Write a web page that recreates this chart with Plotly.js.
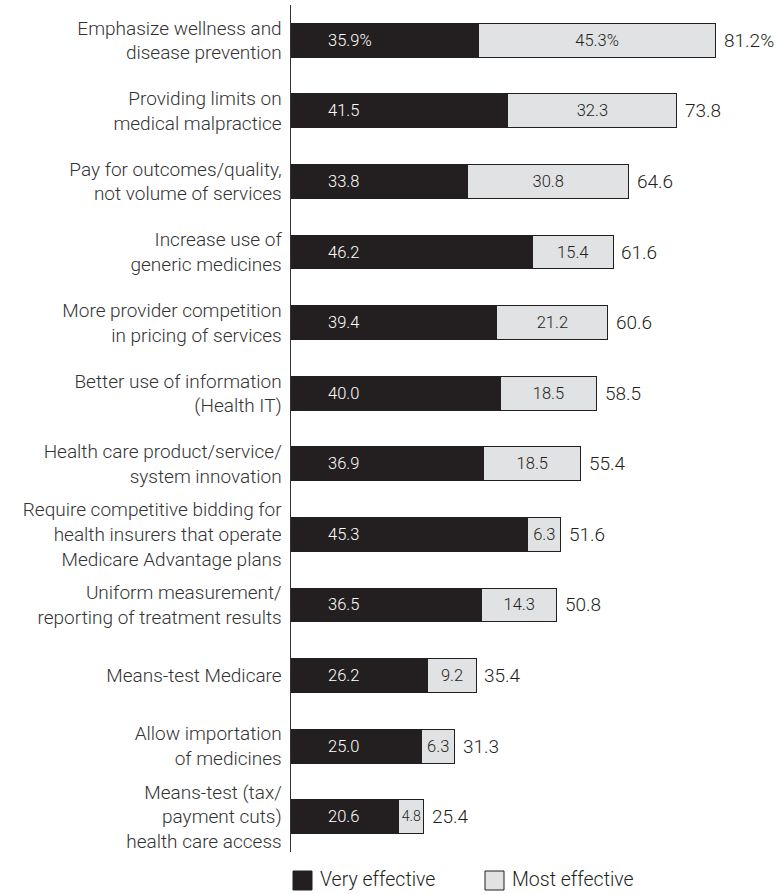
<!DOCTYPE html>
<html>
<head>
<meta charset="utf-8">
<script src="https://cdn.plot.ly/plotly-3.0.1.min.js"></script>
<style>html,body{margin:0;padding:0;background:#fff;}#chart{width:778px;height:894px;}</style>
</head>
<body>
<div id="chart"></div>
<script>
const categories = [
  "Emphasize wellness and<br>disease prevention",
  "Providing limits on<br>medical malpractice",
  "Pay for outcomes/quality,<br>not volume of services",
  "Increase use of<br>generic medicines",
  "More provider competition<br>in pricing of services",
  "Better use of information<br>(Health IT)",
  "Health care product/service/<br>system innovation",
  "Require competitive bidding for<br>health insurers that operate<br>Medicare Advantage plans",
  "Uniform measurement/<br>reporting of treatment results",
  "Means-test Medicare",
  "Allow importation<br>of medicines",
  "Means-test (tax/<br>payment cuts)<br>health care access"
];
const veryEffective = [35.9, 41.5, 33.8, 46.2, 39.4, 40.0, 36.9, 45.3, 36.5, 26.2, 25.0, 20.6];
const mostEffective = [45.3, 32.3, 30.8, 15.4, 21.2, 18.5, 18.5, 6.3, 14.3, 9.2, 6.3, 4.8];
const totals = [81.2, 73.8, 64.6, 61.6, 60.6, 58.5, 55.4, 51.6, 50.8, 35.4, 31.3, 25.4];
const seriesNames = ["Very effective", "Most effective"];

const DARK = "#231f20";
const GREY = "#e1e2e3";
const FONT = "Roboto, 'Liberation Sans', sans-serif";

function fmt(v, i) { return v.toFixed(1) + (i === 0 ? "%" : ""); }

const traces = [
  {
    type: "bar", orientation: "h", name: seriesNames[0],
    y: categories, x: veryEffective,
    marker: {color: DARK, line: {color: DARK, width: 1}},
    width: 0.48, hoverinfo: "skip", showlegend: false
  },
  {
    type: "bar", orientation: "h", name: seriesNames[1],
    y: categories, x: mostEffective,
    marker: {color: GREY, line: {color: DARK, width: 1}},
    width: 0.48,
    text: mostEffective.map(fmt), textposition: "inside", insidetextanchor: "middle",
    textangle: 0, textfont: {family: FONT, size: 16.5, color: DARK, weight: 300},
    hoverinfo: "skip", showlegend: false
  }
];

const annotations = [];
categories.forEach((c, i) => {
  annotations.push({
    x: 0, y: c, xref: "x", yref: "y", xanchor: "left", yanchor: "middle",
    xshift: 35, text: fmt(veryEffective[i], i), showarrow: false,
    font: {family: FONT, size: 16.5, color: "#ffffff", weight: 300}
  });
  annotations.push({
    x: totals[i], y: c, xref: "x", yref: "y", xanchor: "left", yanchor: "middle",
    xshift: 6, text: fmt(totals[i], i), showarrow: false,
    font: {family: FONT, size: 19, color: DARK, weight: 300}
  });
});

// legend (built from series names and colours)
const plotW = 778 - 291 - 6, plotH = 894 - 5 - 42;
const px = p => (p - 291) / plotW;
const py = p => (852 - p) / plotH;
const legendX = [293, 485];
const legendColors = [DARK, GREY];
const shapes = [];
seriesNames.forEach((n, k) => {
  shapes.push({
    type: "rect", xref: "paper", yref: "paper",
    x0: px(legendX[k]), x1: px(legendX[k] + 19), y0: py(871), y1: py(890),
    fillcolor: legendColors[k], line: {color: DARK, width: 1}
  });
  annotations.push({
    x: px(legendX[k] + 25), y: py(880), xref: "paper", yref: "paper",
    xanchor: "left", yanchor: "middle", text: n, showarrow: false,
    font: {family: FONT, size: 19.5, color: DARK, weight: 300}
  });
});

const layout = {
  width: 778, height: 894,
  margin: {l: 291, r: 6, t: 5, b: 42},
  paper_bgcolor: "#fff", plot_bgcolor: "#fff",
  barmode: "stack",
  font: {family: FONT, color: "#333"},
  xaxis: {range: [0, 92], visible: false, fixedrange: true},
  yaxis: {
    autorange: false, range: [11.5, -0.5], type: "category",
    showline: true, linecolor: "#333", linewidth: 1.5,
    showgrid: false, zeroline: false, ticks: "",
    ticklabelstandoff: 4,
    tickfont: {family: FONT, size: 19, color: "#333", weight: 300}
  },
  showlegend: false,
  shapes: shapes,
  annotations: annotations
};

Plotly.newPlot("chart", traces, layout, {displayModeBar: false, staticPlot: true});
</script>
</body>
</html>
